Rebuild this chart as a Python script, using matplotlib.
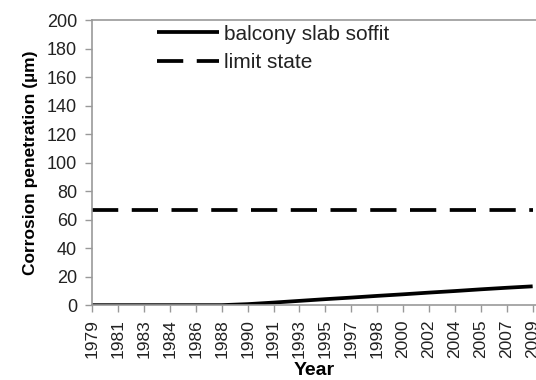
import matplotlib
matplotlib.use("Agg")
import matplotlib.pyplot as plt
import numpy as np

plt.rcParams['font.family'] = ['Liberation Sans', 'DejaVu Sans']

# category labels shown on the x axis
years = ['1979', '1981', '1983', '1984', '1986', '1988', '1990', '1991', '1993',
         '1995', '1997', '1998', '2000', '2002', '2004', '2005', '2007', '2009']
# corrosion penetration of the balcony slab soffit (um)
soffit = [0, 0, 0, 0, 0, 0, 0.7, 1.8, 3.0, 4.2, 5.3, 6.5, 7.6, 8.8, 9.9, 11.1, 12.2, 13.2]
# limit state (um)
limit_state = 67

fig = plt.figure(figsize=(5.36, 3.8), dpi=100)
ax = fig.add_axes([0.172, 0.197, 0.829, 0.750])

x = np.arange(len(years))
ax.plot(x, soffit, color='black', lw=2.7, solid_capstyle='butt', label='balcony slab soffit')
ax.plot(x, [limit_state] * len(x), color='black', lw=2.7, dashes=(7, 3.6),
        label='limit state')

ax.set_xlim(0, 17.15)
ax.set_ylim(0, 200)
ax.set_yticks(np.arange(0, 201, 20))
ax.set_xticks(x)
ax.set_xticklabels(years, rotation=90)

ax.tick_params(axis='both', labelcolor='#222222', color='#999999',
               length=5, width=1, direction='out')
ax.tick_params(axis='y', labelsize=13, pad=6)
ax.tick_params(axis='x', labelsize=12.5, pad=5)
for side in ['left', 'bottom', 'top']:
    ax.spines[side].set_color('#999999')
    ax.spines[side].set_linewidth(1.2)
ax.spines['right'].set_visible(False)

ax.set_ylabel('Corrosion penetration (µm)', fontsize=12.5, fontweight='bold', labelpad=6)
ax.set_xlabel('Year', fontsize=14, fontweight='bold', labelpad=3)

leg = ax.legend(loc='upper left', bbox_to_anchor=(0.103, 1.05), frameon=False,
                fontsize=15, handlelength=3.0, handletextpad=0.25, labelspacing=0.45)
for t in leg.get_texts():
    t.set_color('#222222')

fig.savefig('out.png', dpi=100)
